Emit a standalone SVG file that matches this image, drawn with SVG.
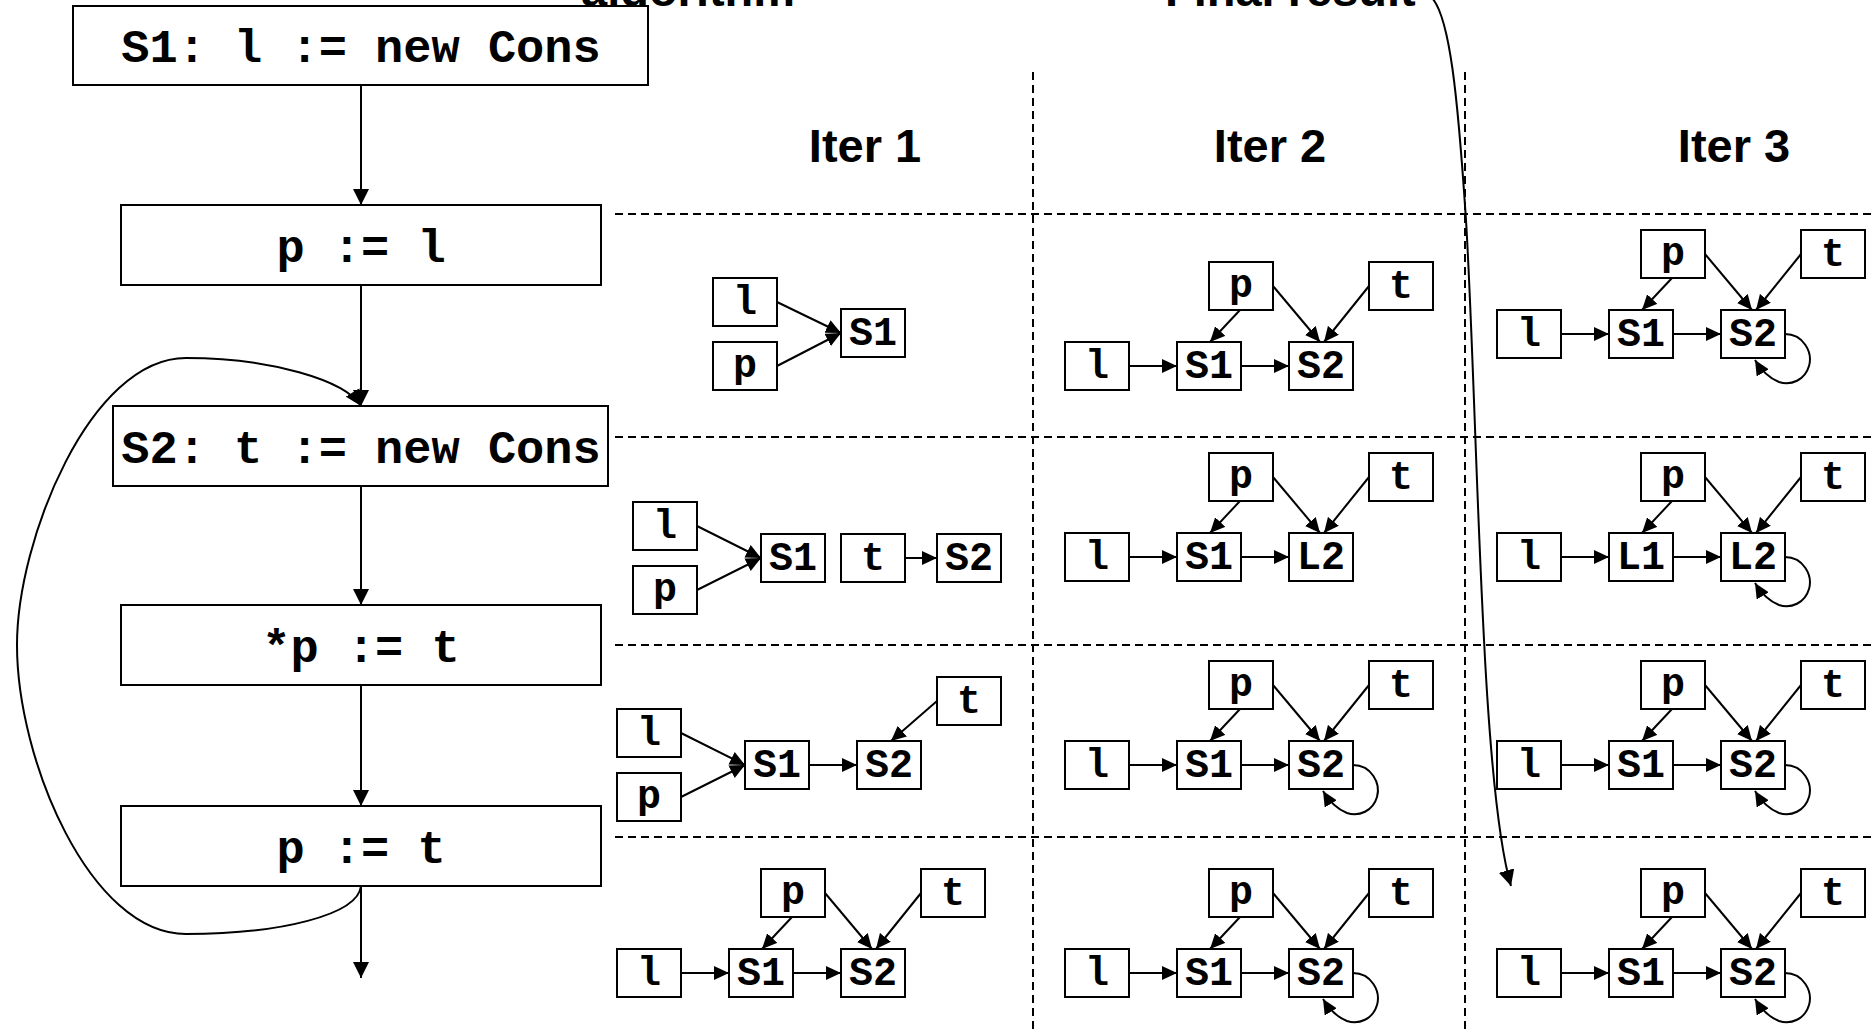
<svg xmlns="http://www.w3.org/2000/svg" width="1872" height="1030" viewBox="0 0 1872 1030">
<style>
.bx{fill:#fff;stroke:#000;stroke-width:2}
.big{font-family:"Liberation Mono","Courier New",monospace;font-weight:bold;font-size:47px;text-anchor:middle}
.sm{font-family:"Liberation Mono","Courier New",monospace;font-weight:bold;font-size:40px;text-anchor:middle}
.ttl{font-family:"Liberation Sans",Arial,sans-serif;font-weight:bold;font-size:47px;text-anchor:middle}
.hd{font-family:"Liberation Sans",Arial,sans-serif;font-weight:bold;font-size:47px}
.e{fill:none;stroke:#000;stroke-width:2;marker-end:url(#as)}
.eb{fill:none;stroke:#000;stroke-width:2;marker-end:url(#ab)}
.d{stroke:#000;stroke-width:2;stroke-dasharray:8 5}
</style>
<defs>
<marker id="ab" markerUnits="userSpaceOnUse" markerWidth="17" markerHeight="16" refX="16" refY="8" orient="auto"><path d="M0,0 L16,8 L0,16 z"/></marker>
<marker id="as" markerUnits="userSpaceOnUse" markerWidth="16" markerHeight="14" refX="15" refY="7" orient="auto"><path d="M0,0 L15,7 L0,14 z"/></marker>
</defs>
<rect width="1872" height="1030" fill="#fff"/>
<g id="headings">
<text class="hd" x="581" y="6">algorithm</text>
<text class="hd" x="1165" y="6">Final result</text>
<text class="ttl" x="865" y="162">Iter 1</text>
<text class="ttl" x="1270" y="162">Iter 2</text>
<text class="ttl" x="1734" y="162">Iter 3</text>
</g>
<g id="grid">
<line class="d" x1="1033" y1="72" x2="1033" y2="1030"/>
<line class="d" x1="1465" y1="72" x2="1465" y2="1030"/>
<line class="d" x1="615" y1="214" x2="1872" y2="214"/>
<line class="d" x1="615" y1="437" x2="1872" y2="437"/>
<line class="d" x1="615" y1="645" x2="1872" y2="645"/>
<line class="d" x1="615" y1="837" x2="1872" y2="837"/>
</g>
<g id="connectors">
<line class="eb" x1="361" y1="85" x2="361" y2="205"/>
<line class="eb" x1="361" y1="285" x2="361" y2="406"/>
<line class="eb" x1="361" y1="486" x2="361" y2="605"/>
<line class="eb" x1="361" y1="685" x2="361" y2="806"/>
<line class="eb" x1="361" y1="886" x2="361" y2="978"/>
<path class="eb" d="M361,886 C358,915 280,934 186,934 C90,934 17,760 17,645 C17,540 90,358 186,358 C270,358 345,380 361,406"/>
<path class="eb" d="M1430,-4 C1450,12 1458,100 1466,220 C1478,420 1480,780 1511,886"/>
<line class="e" x1="777" y1="302" x2="841" y2="333"/>
<line class="e" x1="777" y1="366" x2="841" y2="333"/>
<line class="e" x1="697" y1="526" x2="761" y2="558"/>
<line class="e" x1="697" y1="590" x2="761" y2="558"/>
<line class="e" x1="905" y1="558" x2="937" y2="558"/>
<line class="e" x1="681" y1="733" x2="745" y2="765"/>
<line class="e" x1="681" y1="797" x2="745" y2="765"/>
<line class="e" x1="809" y1="765" x2="857" y2="765"/>
<line class="e" x1="937" y1="701" x2="891" y2="741"/>
<line class="e" x1="681" y1="973" x2="729" y2="973"/>
<line class="e" x1="793" y1="973" x2="841" y2="973"/>
<line class="e" x1="792" y1="917" x2="762" y2="949"/>
<line class="e" x1="825" y1="893" x2="872" y2="949"/>
<line class="e" x1="921" y1="893" x2="876" y2="949"/>
<line class="e" x1="1129" y1="366" x2="1177" y2="366"/>
<line class="e" x1="1241" y1="366" x2="1289" y2="366"/>
<line class="e" x1="1240" y1="310" x2="1210" y2="342"/>
<line class="e" x1="1273" y1="286" x2="1320" y2="342"/>
<line class="e" x1="1369" y1="286" x2="1324" y2="342"/>
<line class="e" x1="1129" y1="557" x2="1177" y2="557"/>
<line class="e" x1="1241" y1="557" x2="1289" y2="557"/>
<line class="e" x1="1240" y1="501" x2="1210" y2="533"/>
<line class="e" x1="1273" y1="477" x2="1320" y2="533"/>
<line class="e" x1="1369" y1="477" x2="1324" y2="533"/>
<line class="e" x1="1129" y1="765" x2="1177" y2="765"/>
<line class="e" x1="1241" y1="765" x2="1289" y2="765"/>
<line class="e" x1="1240" y1="709" x2="1210" y2="741"/>
<line class="e" x1="1273" y1="685" x2="1320" y2="741"/>
<line class="e" x1="1369" y1="685" x2="1324" y2="741"/>
<path class="e" d="M1353,765 C1371,765 1381,783 1377,797 C1373,811 1359,817 1347,813 C1337,809 1329,801 1323,791"/>
<line class="e" x1="1129" y1="973" x2="1177" y2="973"/>
<line class="e" x1="1241" y1="973" x2="1289" y2="973"/>
<line class="e" x1="1240" y1="917" x2="1210" y2="949"/>
<line class="e" x1="1273" y1="893" x2="1320" y2="949"/>
<line class="e" x1="1369" y1="893" x2="1324" y2="949"/>
<path class="e" d="M1353,973 C1371,973 1381,991 1377,1005 C1373,1019 1359,1025 1347,1021 C1337,1017 1329,1009 1323,999"/>
<line class="e" x1="1561" y1="334" x2="1609" y2="334"/>
<line class="e" x1="1673" y1="334" x2="1721" y2="334"/>
<line class="e" x1="1672" y1="278" x2="1642" y2="310"/>
<line class="e" x1="1705" y1="254" x2="1752" y2="310"/>
<line class="e" x1="1801" y1="254" x2="1756" y2="310"/>
<path class="e" d="M1785,334 C1803,334 1813,352 1809,366 C1805,380 1791,386 1779,382 C1769,378 1761,370 1755,360"/>
<line class="e" x1="1561" y1="557" x2="1609" y2="557"/>
<line class="e" x1="1673" y1="557" x2="1721" y2="557"/>
<line class="e" x1="1672" y1="501" x2="1642" y2="533"/>
<line class="e" x1="1705" y1="477" x2="1752" y2="533"/>
<line class="e" x1="1801" y1="477" x2="1756" y2="533"/>
<path class="e" d="M1785,557 C1803,557 1813,575 1809,589 C1805,603 1791,609 1779,605 C1769,601 1761,593 1755,583"/>
<line class="e" x1="1561" y1="765" x2="1609" y2="765"/>
<line class="e" x1="1673" y1="765" x2="1721" y2="765"/>
<line class="e" x1="1672" y1="709" x2="1642" y2="741"/>
<line class="e" x1="1705" y1="685" x2="1752" y2="741"/>
<line class="e" x1="1801" y1="685" x2="1756" y2="741"/>
<path class="e" d="M1785,765 C1803,765 1813,783 1809,797 C1805,811 1791,817 1779,813 C1769,809 1761,801 1755,791"/>
<line class="e" x1="1561" y1="973" x2="1609" y2="973"/>
<line class="e" x1="1673" y1="973" x2="1721" y2="973"/>
<line class="e" x1="1672" y1="917" x2="1642" y2="949"/>
<line class="e" x1="1705" y1="893" x2="1752" y2="949"/>
<line class="e" x1="1801" y1="893" x2="1756" y2="949"/>
<path class="e" d="M1785,973 C1803,973 1813,991 1809,1005 C1805,1019 1791,1025 1779,1021 C1769,1017 1761,1009 1755,999"/>
</g>
<g id="flow-s1"><rect class="bx" x="73" y="6" width="575" height="79"/><text class="big" x="361" y="62">S1: l := new Cons</text></g>
<g id="flow-p-l"><rect class="bx" x="121" y="205" width="480" height="80"/><text class="big" x="361" y="262">p := l</text></g>
<g id="flow-s2"><rect class="bx" x="113" y="406" width="495" height="80"/><text class="big" x="361" y="463">S2: t := new Cons</text></g>
<g id="flow-star-p"><rect class="bx" x="121" y="605" width="480" height="80"/><text class="big" x="361" y="662">*p := t</text></g>
<g id="flow-p-t"><rect class="bx" x="121" y="806" width="480" height="80"/><text class="big" x="361" y="863">p := t</text></g>

<g id="i1r1">
<rect class="bx" x="713" y="278" width="64" height="48"/><text class="sm" x="745" y="314">l</text>
<rect class="bx" x="713" y="342" width="64" height="48"/><text class="sm" x="745" y="377">p</text>
<rect class="bx" x="841" y="309" width="64" height="48"/><text class="sm" x="873" y="345">S1</text>
</g>
<g id="i1r2">
<rect class="bx" x="633" y="502" width="64" height="48"/><text class="sm" x="665" y="538">l</text>
<rect class="bx" x="633" y="566" width="64" height="48"/><text class="sm" x="665" y="601">p</text>
<rect class="bx" x="761" y="534" width="64" height="48"/><text class="sm" x="793" y="570">S1</text>
<rect class="bx" x="841" y="534" width="64" height="48"/><text class="sm" x="873" y="570">t</text>
<rect class="bx" x="937" y="534" width="64" height="48"/><text class="sm" x="969" y="570">S2</text>
</g>
<g id="i1r3">
<rect class="bx" x="617" y="709" width="64" height="48"/><text class="sm" x="649" y="745">l</text>
<rect class="bx" x="617" y="773" width="64" height="48"/><text class="sm" x="649" y="808">p</text>
<rect class="bx" x="745" y="741" width="64" height="48"/><text class="sm" x="777" y="777">S1</text>
<rect class="bx" x="857" y="741" width="64" height="48"/><text class="sm" x="889" y="777">S2</text>
<rect class="bx" x="937" y="677" width="64" height="48"/><text class="sm" x="969" y="713">t</text>
</g>
<g id="i1r4">
<rect class="bx" x="617" y="949" width="64" height="48"/><text class="sm" x="649" y="985">l</text>
<rect class="bx" x="729" y="949" width="64" height="48"/><text class="sm" x="761" y="985">S1</text>
<rect class="bx" x="841" y="949" width="64" height="48"/><text class="sm" x="873" y="985">S2</text>
<rect class="bx" x="761" y="869" width="64" height="48"/><text class="sm" x="793" y="904">p</text>
<rect class="bx" x="921" y="869" width="64" height="48"/><text class="sm" x="953" y="905">t</text>
</g>

<g id="i2r1">
<rect class="bx" x="1065" y="342" width="64" height="48"/><text class="sm" x="1097" y="378">l</text>
<rect class="bx" x="1177" y="342" width="64" height="48"/><text class="sm" x="1209" y="378">S1</text>
<rect class="bx" x="1289" y="342" width="64" height="48"/><text class="sm" x="1321" y="378">S2</text>
<rect class="bx" x="1209" y="262" width="64" height="48"/><text class="sm" x="1241" y="297">p</text>
<rect class="bx" x="1369" y="262" width="64" height="48"/><text class="sm" x="1401" y="298">t</text>
</g>
<g id="i2r2">
<rect class="bx" x="1065" y="533" width="64" height="48"/><text class="sm" x="1097" y="569">l</text>
<rect class="bx" x="1177" y="533" width="64" height="48"/><text class="sm" x="1209" y="569">S1</text>
<rect class="bx" x="1289" y="533" width="64" height="48"/><text class="sm" x="1321" y="569">L2</text>
<rect class="bx" x="1209" y="453" width="64" height="48"/><text class="sm" x="1241" y="488">p</text>
<rect class="bx" x="1369" y="453" width="64" height="48"/><text class="sm" x="1401" y="489">t</text>
</g>
<g id="i2r3">
<rect class="bx" x="1065" y="741" width="64" height="48"/><text class="sm" x="1097" y="777">l</text>
<rect class="bx" x="1177" y="741" width="64" height="48"/><text class="sm" x="1209" y="777">S1</text>
<rect class="bx" x="1289" y="741" width="64" height="48"/><text class="sm" x="1321" y="777">S2</text>
<rect class="bx" x="1209" y="661" width="64" height="48"/><text class="sm" x="1241" y="696">p</text>
<rect class="bx" x="1369" y="661" width="64" height="48"/><text class="sm" x="1401" y="697">t</text>
</g>
<g id="i2r4">
<rect class="bx" x="1065" y="949" width="64" height="48"/><text class="sm" x="1097" y="985">l</text>
<rect class="bx" x="1177" y="949" width="64" height="48"/><text class="sm" x="1209" y="985">S1</text>
<rect class="bx" x="1289" y="949" width="64" height="48"/><text class="sm" x="1321" y="985">S2</text>
<rect class="bx" x="1209" y="869" width="64" height="48"/><text class="sm" x="1241" y="904">p</text>
<rect class="bx" x="1369" y="869" width="64" height="48"/><text class="sm" x="1401" y="905">t</text>
</g>

<g id="i3r1">
<rect class="bx" x="1497" y="310" width="64" height="48"/><text class="sm" x="1529" y="346">l</text>
<rect class="bx" x="1609" y="310" width="64" height="48"/><text class="sm" x="1641" y="346">S1</text>
<rect class="bx" x="1721" y="310" width="64" height="48"/><text class="sm" x="1753" y="346">S2</text>
<rect class="bx" x="1641" y="230" width="64" height="48"/><text class="sm" x="1673" y="265">p</text>
<rect class="bx" x="1801" y="230" width="64" height="48"/><text class="sm" x="1833" y="266">t</text>
</g>
<g id="i3r2">
<rect class="bx" x="1497" y="533" width="64" height="48"/><text class="sm" x="1529" y="569">l</text>
<rect class="bx" x="1609" y="533" width="64" height="48"/><text class="sm" x="1641" y="569">L1</text>
<rect class="bx" x="1721" y="533" width="64" height="48"/><text class="sm" x="1753" y="569">L2</text>
<rect class="bx" x="1641" y="453" width="64" height="48"/><text class="sm" x="1673" y="488">p</text>
<rect class="bx" x="1801" y="453" width="64" height="48"/><text class="sm" x="1833" y="489">t</text>
</g>
<g id="i3r3">
<rect class="bx" x="1497" y="741" width="64" height="48"/><text class="sm" x="1529" y="777">l</text>
<rect class="bx" x="1609" y="741" width="64" height="48"/><text class="sm" x="1641" y="777">S1</text>
<rect class="bx" x="1721" y="741" width="64" height="48"/><text class="sm" x="1753" y="777">S2</text>
<rect class="bx" x="1641" y="661" width="64" height="48"/><text class="sm" x="1673" y="696">p</text>
<rect class="bx" x="1801" y="661" width="64" height="48"/><text class="sm" x="1833" y="697">t</text>
</g>
<g id="i3r4">
<rect class="bx" x="1497" y="949" width="64" height="48"/><text class="sm" x="1529" y="985">l</text>
<rect class="bx" x="1609" y="949" width="64" height="48"/><text class="sm" x="1641" y="985">S1</text>
<rect class="bx" x="1721" y="949" width="64" height="48"/><text class="sm" x="1753" y="985">S2</text>
<rect class="bx" x="1641" y="869" width="64" height="48"/><text class="sm" x="1673" y="904">p</text>
<rect class="bx" x="1801" y="869" width="64" height="48"/><text class="sm" x="1833" y="905">t</text>
</g>
</svg>
